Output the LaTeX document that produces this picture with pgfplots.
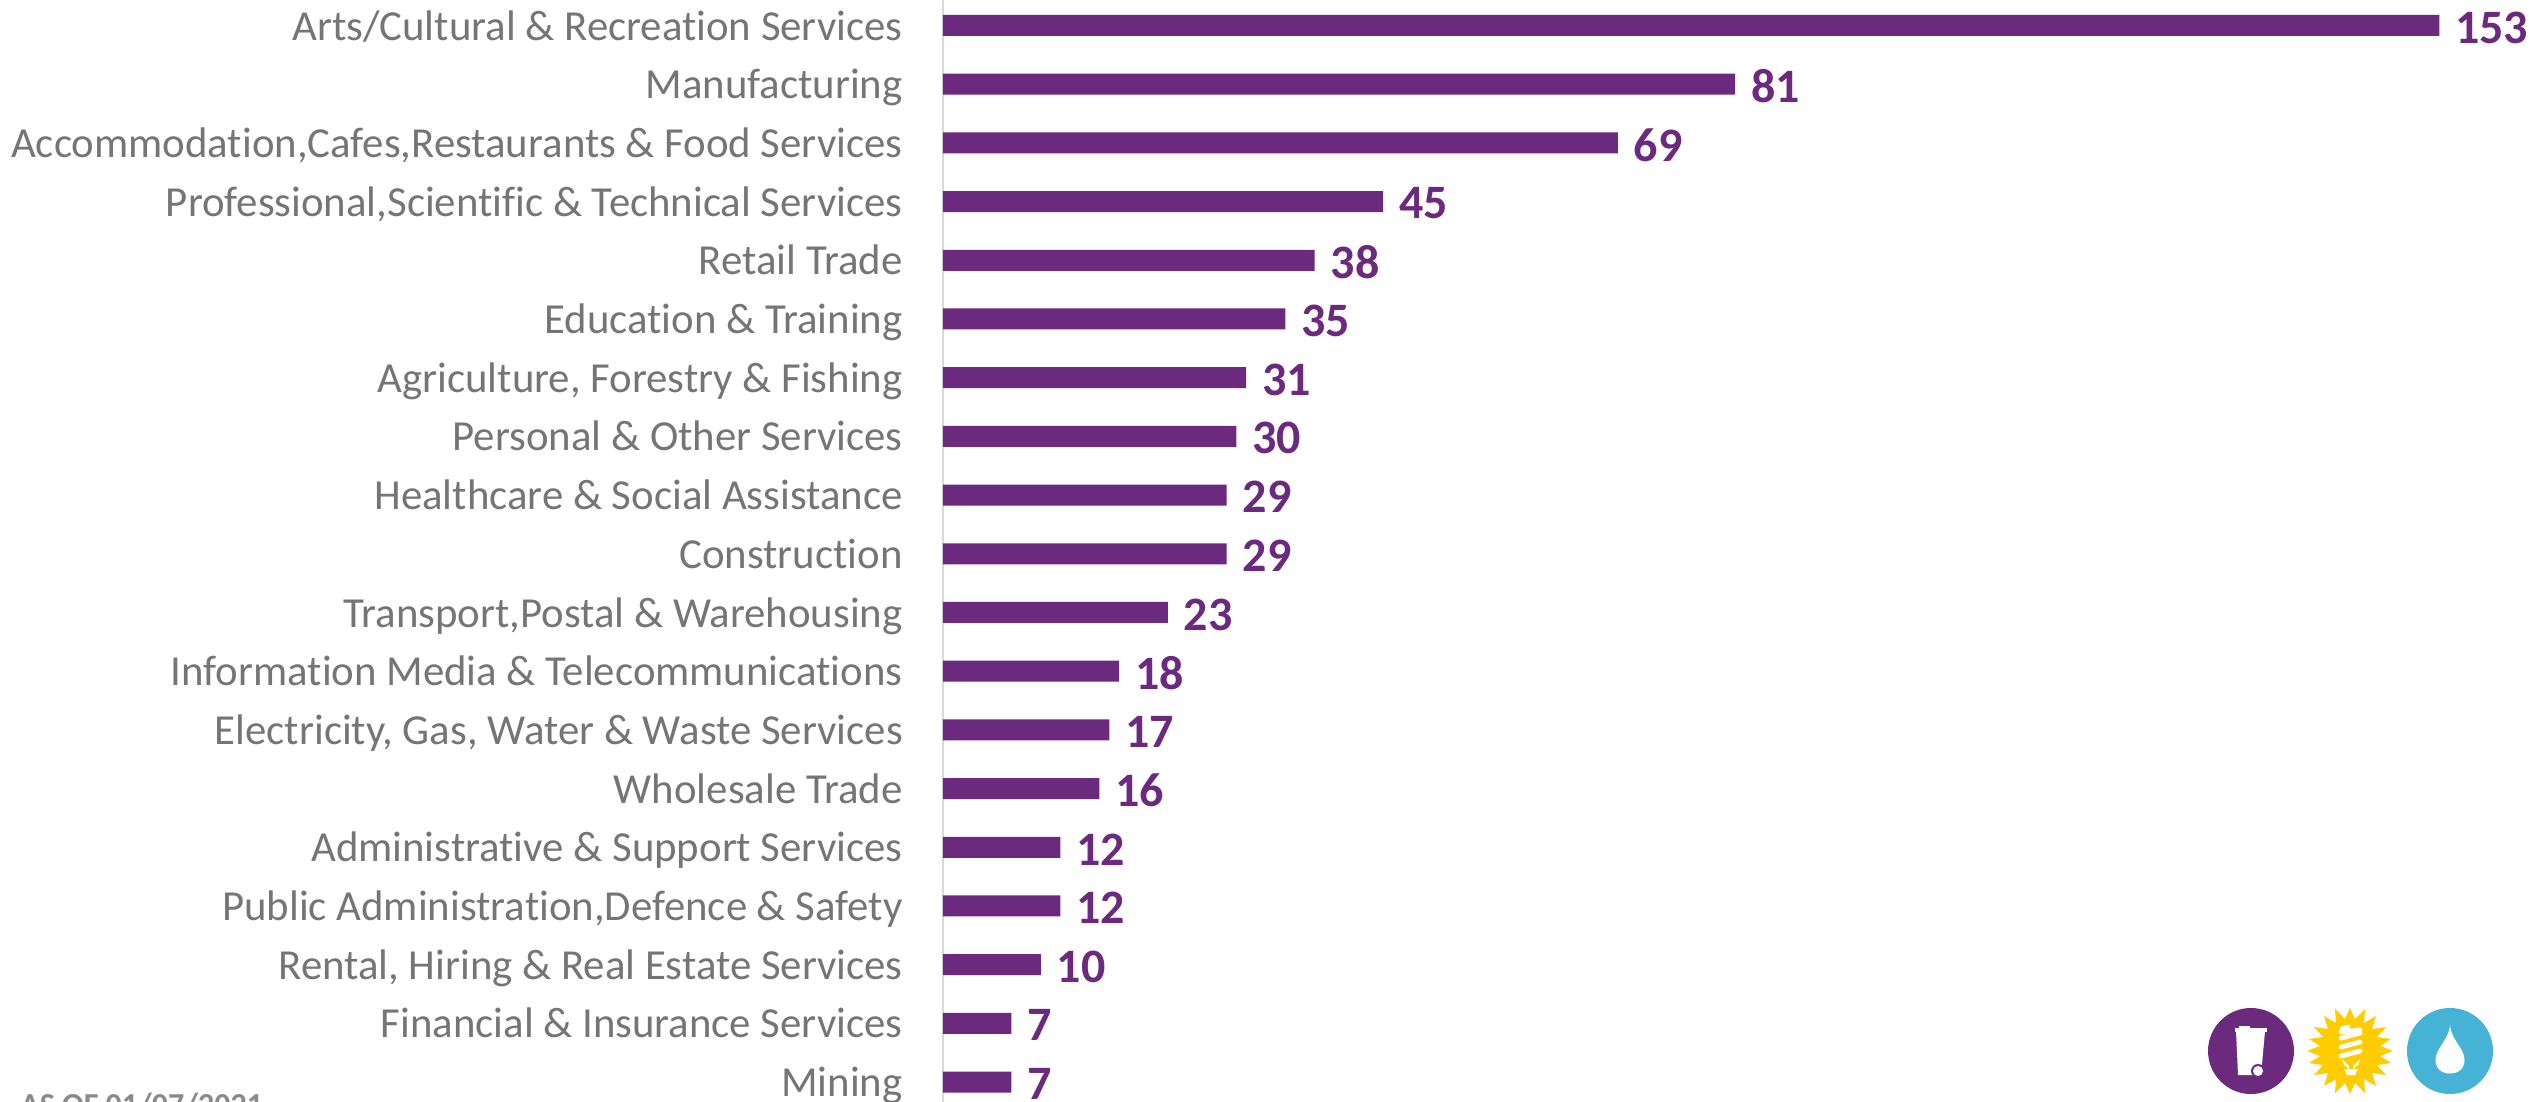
\documentclass[border=0pt]{standalone}
\usepackage{pgfplots}
\pgfplotsset{compat=1.18}
\usepackage{fontspec}
\setmainfont[Ligatures=NoCommon]{Carlito}
\definecolor{barp}{HTML}{6B2A7E}
\definecolor{lab}{HTML}{757575}
\definecolor{axl}{HTML}{D9D9D9}
\definecolor{sun}{HTML}{FFCC00}
\definecolor{drop}{HTML}{45B2D6}
\pgfplotstableread[col sep=semicolon]{
idx;val
0;153
1;81
2;69
3;45
4;38
5;35
6;31
7;30
8;29
9;29
10;23
11;18
12;17
13;16
14;12
15;12
16;10
17;7
18;7
}\datatable
\begin{document}
\begin{tikzpicture}[x=0.5pt,y=-0.5pt]
\useasboundingbox (0,0) rectangle (2539,1102);
\clip (0,0) rectangle (2539,1102);
\begin{axis}[
  at={(471.5pt,0pt)}, anchor=north west,
  scale only axis, width=798pt, height=551pt,
  xbar, bar width=10.5pt,
  xmin=0, xmax=163.2,
  ymin=-0.434, ymax=18.34, y dir=reverse,
  axis x line=none,
  axis y line=left,
  y axis line style={draw=axl,line width=1pt,-},
  ytick={0,...,18},
  ytick style={draw=none},
  tick label style={font=\fontsize{21.4}{24}\selectfont,text=lab},
  yticklabel style={xshift=-14.5pt,text height=14pt,text depth=0pt,yshift=-0.3pt},
  yticklabels={Arts/Cultural \& Recreation Services,Manufacturing,{Accommodation,Cafes,Restaurants \& Food Services},{Professional,Scientific \& Technical Services},Retail Trade,Education \& Training,{Agriculture, Forestry \& Fishing},Personal \& Other Services,Healthcare \& Social Assistance,Construction,{Transport,Postal \& Warehousing},Information Media \& Telecommunications,{Electricity, Gas, Water \& Waste Services},Wholesale Trade,Administrative \& Support Services,{Public Administration,Defence \& Safety},{Rental, Hiring \& Real Estate Services},Financial \& Insurance Services,Mining},
  nodes near coords,
  /pgf/number format/assume math mode=true,
  nodes near coords style={font=\fontsize{24}{28}\selectfont\bfseries,text=barp,anchor=west,xshift=4.5pt,yshift=-1pt},
  clip=false,
]
\addplot[fill=barp,draw=none] table[col sep=semicolon,x=val,y=idx] {\datatable};
\end{axis}
\node[anchor=base west,inner sep=0pt,text=lab!85!white,font=\fontsize{16}{18}\selectfont\bfseries] at (20,1115) {AS OF 01/07/2021};
% icons
\fill[barp] (2251,1051) circle (43);
\fill[white] (2236,1031) -- (2265,1031) -- (2261,1075) -- (2238,1075) -- cycle;
\fill[white] (2235,1028) rectangle (2267,1032);
\fill[white] (2239,1026) rectangle (2250,1029);
\fill[barp] (2258,1071) circle (7);
\fill[white] (2258,1071) circle (5);
\fill[sun] (2393,1051) -- (2380,1056) -- (2391,1063) -- (2377,1065) -- (2386,1075) -- (2372,1073) -- (2376,1086) -- (2364,1079) -- (2365,1093) -- (2355,1083) -- (2350,1094) -- (2345,1083) -- (2335,1093) -- (2336,1079) -- (2324,1086) -- (2328,1073) -- (2314,1075) -- (2323,1065) -- (2309,1063) -- (2320,1056) -- (2307,1051) -- (2320,1046) -- (2309,1039) -- (2323,1037) -- (2314,1027) -- (2328,1029) -- (2324,1016) -- (2336,1023) -- (2335,1009) -- (2345,1019) -- (2350,1008) -- (2355,1019) -- (2365,1009) -- (2364,1023) -- (2376,1016) -- (2372,1029) -- (2386,1027) -- (2377,1037) -- (2391,1039) -- (2380,1046) -- cycle;
\foreach \yy in {1036,1045,1054}{\draw[white,line width=2.4pt,line cap=round] (2341,\yy+2) -- (2360,\yy-3);}
\draw[white,line width=2.4pt,line cap=round] (2342,1029) -- (2348,1027);
\draw[white,line width=2.4pt,line cap=round] (2341,1032) -- (2360,1030);
\fill[white] (2342,1059) -- (2349,1066) -- (2349,1069) -- (2344,1065) -- cycle;
\fill[white] (2360,1059) -- (2353,1066) -- (2353,1069) -- (2358,1065) -- cycle;
\fill[white] (2344,1069) -- (2358,1069) -- (2355,1075) -- (2347,1075) -- cycle;
\fill[drop] (2450,1051) circle (43);
\fill[white] (2450,1025) .. controls (2451,1040) and (2464.5,1048) .. (2464.5,1060) .. controls (2464.5,1069) and (2458,1073.5) .. (2450,1073.5) .. controls (2442,1073.5) and (2435.5,1069) .. (2435.5,1060) .. controls (2435.5,1048) and (2449,1040) .. (2450,1025) -- cycle;
\end{tikzpicture}
\end{document}
